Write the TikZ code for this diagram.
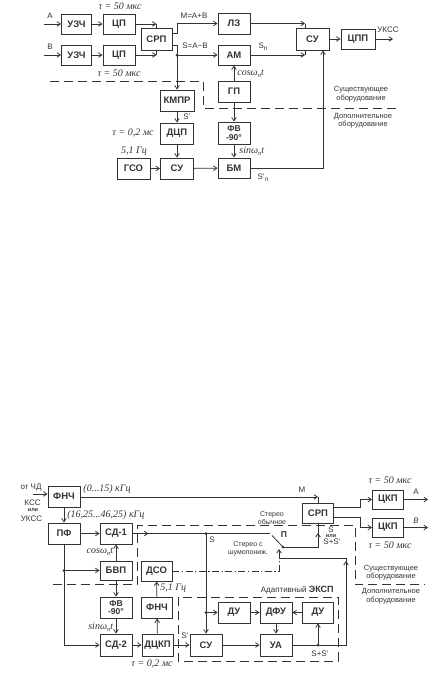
\documentclass[tikz,border=0pt]{standalone}
\usepackage{fontspec}
\setmainfont{Liberation Sans}
\newfontfamily\itf{Liberation Serif}
\usetikzlibrary{arrows.meta,calc}
\newcommand\lsub[1]{\raisebox{-0.45ex}{\fontsize{6.5}{7}\selectfont #1}}
\begin{document}
\begin{tikzpicture}[x=1pt,y=-1pt,
  color=black!80, line width=0.8pt,
  >={Straight Barb[length=3.4pt,width=4.6pt]},
  blk/.style={draw, line width=0.9pt, minimum width=32pt, minimum height=21pt, inner sep=0pt,
    font=\fontsize{9.5}{10}\selectfont\bfseries},
  twol/.style={align=center, font=\fontsize{8.5}{8.5}\selectfont\bfseries},
  lbl/.style={inner sep=0pt, font=\fontsize{8}{8.5}\selectfont},
  ilbl/.style={inner sep=0pt, font=\itf\itshape\fontsize{10}{10}\selectfont},
  note/.style={inner sep=0pt, align=center, font=\fontsize{7.5}{8.5}\selectfont},
  small/.style={inner sep=0pt, align=center, font=\fontsize{7}{7.5}\selectfont},
  tiny/.style={inner sep=0pt, font=\fontsize{5.5}{5.5}\selectfont\bfseries},
  bound/.style={dash pattern=on 9pt off 5pt, line width=0.8pt},
  dashdot/.style={dash pattern=on 7pt off 2.5pt on 1.2pt off 2.5pt, line width=0.8pt},
]
\useasboundingbox (0,0) rectangle (444,678);

% ================= TOP DIAGRAM =================
\node[blk,minimum width=30pt,minimum height=20pt] (uzch1) at (76.5,24) {УЗЧ};
\node[blk,minimum height=20pt] (cp1) at (119,24) {ЦП};
\node[blk,minimum width=30pt,minimum height=20pt] (uzch2) at (76.5,55) {УЗЧ};
\node[blk,minimum height=20pt] (cp2) at (119,55) {ЦП};
\node[blk,minimum width=31pt,minimum height=22pt] (srp) at (156.5,39) {СРП};
\node[blk] (lz) at (234,23.5) {ЛЗ};
\node[blk,minimum height=20pt] (am) at (234,55) {АМ};
\node[blk,minimum width=33pt,minimum height=22pt] (su1) at (312.5,39) {СУ};
\node[blk,minimum width=34pt,minimum height=20pt] (cpp) at (358,39) {ЦПП};
\node[blk,minimum width=34pt] (kmpr) at (177,100.5) {КМПР};
\node[blk] (gp) at (234,91.5) {ГП};
\node[blk,twol,minimum height=22pt] (fv1) at (234,133) {ФВ\\-90°};
\node[blk,minimum height=20pt] (bm) at (234,168) {БМ};
\node[blk,minimum width=33pt] (dcp) at (177,133.5) {ДЦП};
\node[blk,minimum width=33pt] (su2) at (177,168.5) {СУ};
\node[blk,minimum width=33pt] (gso) at (133.5,168.5) {ГСО};

\coordinate (ina) at (44,24);
\coordinate (inb) at (44,55);
\draw[->] (ina) -- (uzch1);
\draw[->] (inb) -- (uzch2);
\draw[->] (uzch1) -- (cp1);
\draw[->] (uzch2) -- (cp2);
\draw[->] (cp1.east) -- (cp1.east -| srp.north);
\draw (cp1.east -| srp.north) -- (srp.north);
\draw[->] (cp2.east) -- (cp2.east -| srp.south);
\draw (cp2.east -| srp.south) -- (srp.south);
\coordinate (m1) at (177,33);
\draw[->] (srp.east |- m1) -- (m1) -- (m1 |- lz.west) -- (lz.west);
\coordinate (s1) at (177,45);
\draw[->] (srp.east |- s1) -- (s1) -- (s1 |- am.west) -- (am.west);
\fill (s1 |- am.west) circle (1.5pt);
\draw[->] (s1 |- am.west) -- (kmpr.north);
\coordinate (c1) at (305,23.5);
\draw[->] (lz.east) -- (c1);
\draw (c1) -- (c1 |- su1.north);
\coordinate (c2) at (305,55);
\draw[->] (am.east) -- (c2);
\draw (c2) -- (c2 |- su1.south);
\draw[->] (su1) -- (cpp);
\coordinate (ukss) at (393,39);
\draw[->] (cpp) -- (ukss);
\draw[->] (gp) -- (am);
\draw[->] (gp) -- (fv1);
\draw[->] (fv1) -- (bm);
\draw[->] (kmpr) -- (dcp);
\draw[->] (dcp) -- (su2);
\draw[->] (gso) -- (su2);
\draw[->] (su2) -- (bm);
\coordinate (c3) at (323,168);
\draw[->] (bm.east) -- (c3) -- (c3 |- su1.south);

\draw[bound] (50,81) -- (203,81) -- (203,108) -- (400,108);

\node[lbl] at (50,16) {A};
\node[lbl] at (50,47) {B};
\node[ilbl] at (120,6.5) {τ = 50 мкс};
\node[ilbl] at (119,73) {τ = 50 мкс};
\node[lbl] at (194,16) {M=A+B};
\node[lbl] at (195,46) {S=A−B};
\node[lbl] at (263,47) {S\lsub{n}};
\node[ilbl,anchor=west] at (237,73.5) {cosω\lsub{n}t};
\node[lbl] at (388,30) {УКСС};
\node[note] at (361,94) {Существующее\\оборудование};
\node[note] at (363,120.5) {Дополнительное\\оборудование};
\node[lbl] at (187,117) {S'};
\node[ilbl] at (133,133) {τ = 0,2 мс};
\node[ilbl] at (134,151.5) {5,1 Гц};
\node[ilbl,anchor=west] at (239,151.5) {sinω\lsub{n}t};
\node[lbl] at (263,178) {S'\lsub{n}};

% ================= BOTTOM DIAGRAM =================
\node[blk] (fnch1) at (64,496.5) {ФНЧ};
\node[blk] (pf) at (64,533.5) {ПФ};
\node[blk] (sd1) at (116,533.5) {СД-1};
\node[blk,minimum height=19pt] (bvp) at (116,570.5) {БВП};
\node[blk,minimum width=31pt,minimum height=20pt] (dso) at (156.5,571) {ДСО};
\node[blk,twol] (fv2) at (116,607.5) {ФВ\\-90°};
\node[blk,minimum width=31pt] (fnch2) at (157,607.5) {ФНЧ};
\node[blk,minimum height=22pt] (sd2) at (116,645) {СД-2};
\node[blk,minimum width=31pt,minimum height=22pt] (dckp) at (157.5,645) {ДЦКП};
\node[blk,minimum height=22pt] (su3) at (206,645) {СУ};
\node[blk] (du1) at (234,612.5) {ДУ};
\node[blk] (dfu) at (276,612.5) {ДФУ};
\node[blk,minimum width=31pt] (du2) at (318,612.5) {ДУ};
\node[blk,minimum height=22pt] (ua) at (276,645) {УА};
\node[blk,minimum width=31pt,minimum height=20pt] (srp2) at (318,513) {СРП};
\node[blk,minimum width=31pt,minimum height=19pt] (ckp1) at (388,499.5) {ЦКП};
\node[blk,minimum width=31pt,minimum height=19pt] (ckp2) at (388,527.5) {ЦКП};

% input
\coordinate (inchd) at (33,494);
\draw[->] (inchd) -- (inchd -| fnch1.west);
\node[lbl] at (31,487.5) {от ЧД};
\node[lbl] at (32.5,503) {КСС};
\node[tiny] at (33,510) {или};
\node[lbl] at (31.5,518.5) {УКСС};

% M line
\coordinate (mc) at (318,497);
\draw[->] (fnch1.east |- mc) -- (mc);
\draw (mc) -- (mc |- srp2.north);
\node[ilbl] at (107,489) {(0...15) кГц};
\node[lbl] at (302,490) {M};

\draw[->] (fnch1) -- (pf);
\node[ilbl,anchor=west] at (67,515.5) {(16,25...46,25) кГц};
\draw[->] (pf) -- (sd1);

% S line and switch
\coordinate (sw1) at (270,533.5);
\coordinate (sdot) at (206,533.5);
\draw (sd1.east) -- (sw1);
\draw[->] (sd1.east) -- ++(16,0);
\fill (sdot) circle (1.5pt);
\node[lbl] at (212,540) {S};
\coordinate (swo) at (283,547);
\draw (swo) -- (272,535.5);
\fill (swo) circle (1.5pt);
\node[inner sep=0pt,font=\fontsize{8.5}{9}\selectfont\bfseries] at (284,535) {П};
\coordinate (swc) at (318,547);
\draw (swo) -- (swc) -- (swc |- srp2.south);
\draw[->] (swc) -- (318,533);
\node[lbl] at (331,530) {S};
\node[tiny] at (331,536.5) {или};
\node[lbl] at (332,542) {S+S'};
\node[small] at (272,518) {Стерео\\обычное};
\node[small] at (248,549) {Стерео с\\шумопониж.};

% S+S' feedback to switch
\coordinate (ssp) at (346,645);
\coordinate (ssq) at (346,558);
\coordinate (ssr) at (279,558);
\draw (ua.east) -- (ssp) -- (ssq) -- (ssr);
\draw[->] (ssp) -- (346,561);
\draw[->] (ssr) -- (279,549);
\draw[dashdot] (dso.east) -- (279,571) -- (ssr);

% left chain
\coordinate (pfd) at (64,570.5);
\draw (pf.south) -- (pfd);
\fill (pfd) circle (1.5pt);
\draw[->] (pfd) -- (bvp.west);
\draw[->] (pfd) -- (pfd |- sd2.west) -- (sd2.west);
\draw[->] (bvp) -- (sd1);
\node[ilbl,anchor=east] at (113.5,551.5) {cosω\lsub{n}t};
\draw[->] (bvp) -- (fv2);
\draw[->] (fv2) -- (sd2);
\node[ilbl,anchor=east] at (113.5,627) {sinω\lsub{n}t};
\draw[->] (sd2) -- (dckp);
\draw[->] (dckp) -- (fnch2);
\draw[->] (fnch2) -- (dso);
\node[ilbl,anchor=west] at (160,588) {5,1 Гц};
\draw[->] (dckp) -- (su3);
\node[lbl] at (185,636) {S'};
\node[ilbl] at (152,664) {τ = 0,2 мс};

% adaptive expander
\coordinate (sdot2) at (206,612.5);
\draw (sdot) -- (sdot2);
\fill (sdot2) circle (1.5pt);
\draw[->] (sdot2) -- (su3.north);
\draw[->] (sdot2) -- (du1.west);
\draw[->] (du1) -- (dfu);
\draw[->] (du2) -- (dfu);
\draw[->] (dfu) -- (ua);
\draw[->] (su3) -- (ua);
\coordinate (ssdot) at (318,645);
\fill (ssdot) circle (1.5pt);
\draw[->] (ssdot) -- (du2.south);
\node[lbl] at (320,654) {S+S'};
\draw[bound] (178,597) rectangle (338,661);
\node[lbl,anchor=south east] at (334,594) {Адаптивный {\fontsize{9}{9}\selectfont\bfseries ЭКСП}};

% outputs
\coordinate (o1) at (360,507);
\draw[->] (srp2.east |- o1) -- (o1) -- (o1 |- ckp1.west) -- (ckp1.west);
\coordinate (o2) at (360,517);
\draw[->] (srp2.east |- o2) -- (o2) -- (o2 |- ckp2.west) -- (ckp2.west);
\coordinate (oa) at (428,499.5);
\coordinate (ob) at (428,527.5);
\draw[->] (ckp1) -- (oa);
\draw[->] (ckp2) -- (ob);
\node[lbl] at (416,492) {A};
\node[lbl,font=\fontsize{8}{8.5}\selectfont\itshape] at (416,520.5) {B};
\node[ilbl] at (390,480) {τ = 50 мкс};
\node[ilbl] at (390,545) {τ = 50 мкс};

% boundary
\draw[bound] (53,584.5) -- (137,584.5) -- (137,525) -- (355,525) -- (355,584.5) -- (425,584.5);
\node[note] at (391,572.5) {Существующее\\оборудование};
\node[note] at (391,596) {Дополнительное\\оборудование};
\end{tikzpicture}
\end{document}
